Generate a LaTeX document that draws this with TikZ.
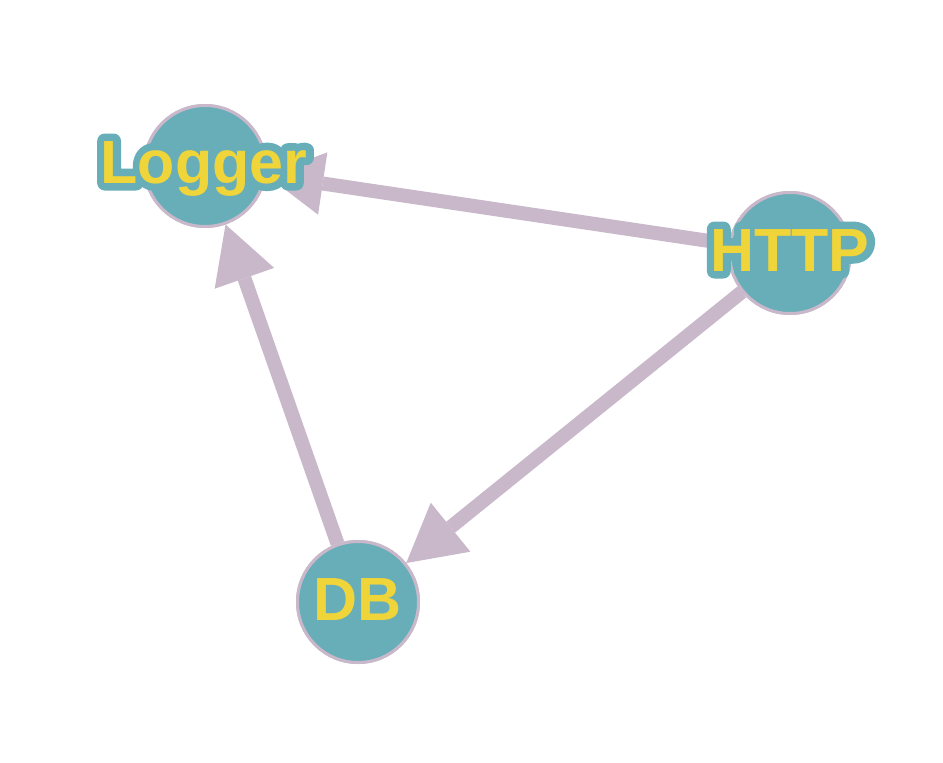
\documentclass[tikz,border=0pt]{standalone}
\usepackage{fontspec}
\setmainfont{Liberation Sans}
\usetikzlibrary{arrows.meta}
\definecolor{nodefill}{RGB}{103,174,185}
\definecolor{lilac}{RGB}{200,184,202}
\definecolor{lbltext}{RGB}{239,212,58}
\newcommand{\halotext}[1]{%
  \rlap{\special{pdf:literal direct 0.404 0.682 0.725 RG 15 w 1 j 1 J 1 Tr}#1\special{pdf:literal direct 0 Tr}}#1}
\tikzset{
  vertex/.style={circle, fill=nodefill, draw=lilac, line width=3pt, minimum size=121pt, inner sep=0pt},
  lbl/.style={anchor=base, inner sep=0pt, text=lbltext, font=\fontsize{61}{62}\selectfont\bfseries},
  edge/.style={draw=lilac, line width=14pt, -{Triangle[length=57pt,width=63pt,line width=0pt]}},
}
\begin{document}
\begin{tikzpicture}[x=1pt, y=-1pt]
  \useasboundingbox[fill=white] (0,0) rectangle (943,763);
  \coordinate (lc) at (205,166);
  \coordinate (hc) at (790,253);
  \coordinate (dc) at (358,602);
  \node[vertex] (logger) at (lc) {};
  \node[vertex] (http) at (hc) {};
  \node[vertex] (db) at (dc) {};
  \path[edge] (http) -- (logger);
  \path[edge] (http) -- (db);
  \path[edge] (db) -- (logger);
  \node[vertex] (loggertop) at (lc) {};
  \node[vertex] (httptop) at (hc) {};
  \node[vertex] (dbtop) at (dc) {};
  \node[lbl] (loggertext) at (204,183) {\halotext{Logger}};
  \node[lbl] (httptext) at (790,271) {\halotext{HTTP}};
  \node[lbl] (dbtext) at (358,620) {\halotext{DB}};
\end{tikzpicture}
\end{document}
